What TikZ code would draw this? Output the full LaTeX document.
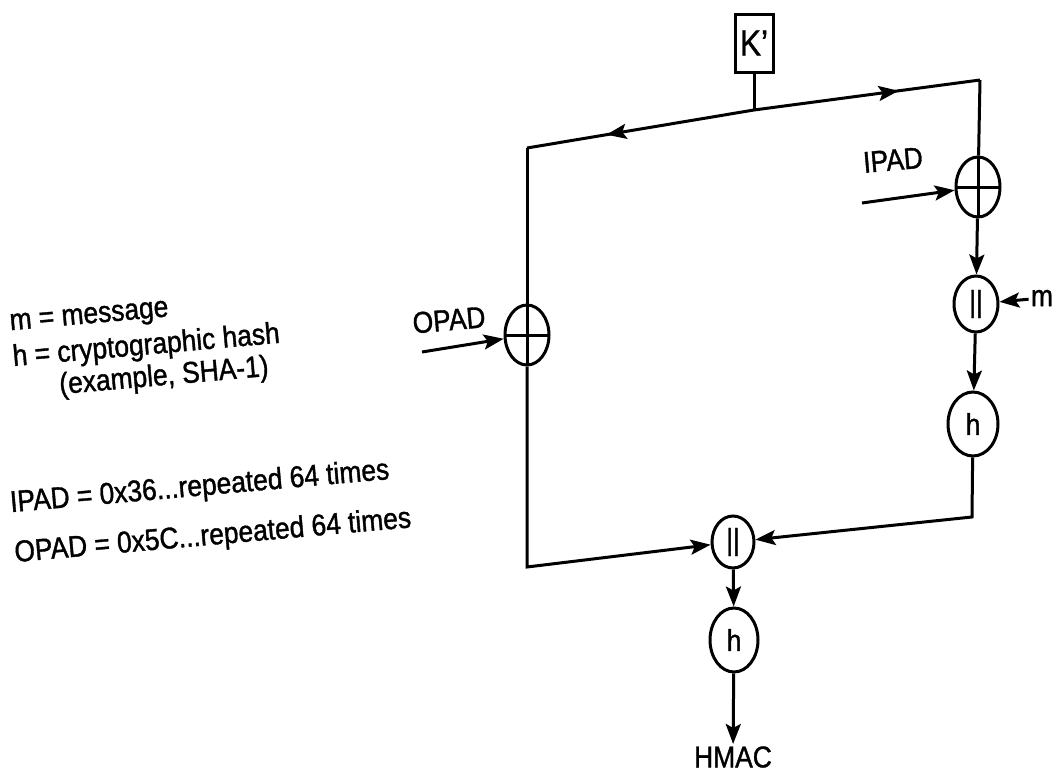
\documentclass[tikz,border=0pt]{standalone}
\usepackage{fontspec}
\setmainfont{Liberation Sans}[FakeStretch=0.88,FakeBold=1.2]
\usetikzlibrary{arrows.meta,shapes.geometric,decorations.markings}

\begin{document}
\begin{tikzpicture}[
  x=0.5pt,y=-0.5pt,
  font=\fontsize{15}{17}\selectfont,
  wire/.style={line width=1.5pt},
  arr/.style={wire, -{Stealth[length=10pt,width=7.5pt,inset=2pt]}},
  midarr/.style={wire, postaction={decorate}, decoration={markings, mark=at position #1 with {\arrow{Stealth[length=10pt,width=7.5pt,inset=2pt]}}}},
  oper/.style={draw, ellipse, line width=1.5pt, inner sep=0pt, minimum width=22pt, minimum height=28pt},
  hash/.style={oper, minimum width=25pt, minimum height=32pt},
  xor/.style={oper, minimum height=30pt, path picture={\draw[line width=1.5pt] (path picture bounding box.west) -- (path picture bounding box.east) (path picture bounding box.north) -- (path picture bounding box.south);}},
  lbl/.style={inner sep=1pt},
  note/.style={anchor=base west, rotate=5, inner sep=0pt, align=left}
]
\useasboundingbox (0,0) rectangle (1062,776);

\node[draw, line width=1.5pt, minimum width=19pt, minimum height=29pt, inner sep=0pt, font=\fontsize{18}{20}\selectfont] (key) at (754,43) {K’};
\coordinate (kj) at (754,110);
\coordinate (tl) at (527,148);
\coordinate (tr) at (980,80);

\node[xor] (ipx) at (978,187) {};
\node[oper] (cat1) at (976,304) {||};
\node[hash] (h1) at (973,424) {h};
\node[xor] (opx) at (527,335) {};
\node[oper, minimum width=21pt, minimum height=26pt] (cat2) at (733,542) {||};
\node[hash, minimum width=24pt] (h2) at (734,640) {h};
\node[lbl] (hmac) at (733,757) {HMAC};

\node[lbl, rotate=5] (iplab) at (893,160) {IPAD};
\coordinate (ipin) at (862,203);
\node[lbl, rotate=5] (oplab) at (449,320) {OPAD};
\coordinate (opin) at (422,352);
\node[lbl] (mlab) at (1042,298) {m};
\coordinate (bl) at (527,567);
\coordinate (br) at (972,517);

\draw[wire] (key) -- (kj);
\draw[midarr=0.65] (kj) -- (tl);
\draw[midarr=0.64] (kj) -- (tr);
\draw[wire] (tr) -- (ipx);
\draw[wire] (tl) -- (opx);
\draw[arr] (ipin) -- (ipx);
\draw[arr] (opin) -- (opx);
\draw[arr] (mlab) -- (cat1);
\draw[arr] (ipx) -- (cat1);
\draw[arr] (cat1) -- (h1);
\draw[arr] (h1) -- (br) -- (cat2);
\draw[arr] (opx) -- (bl) -- (cat2);
\draw[arr] (cat2) -- (h2);
\draw[arr] (h2) -- (hmac);

\node[note] (defs) at (16,398) {m = message\\[1pt] h = cryptographic hash\\[-1pt] \hspace*{22pt}(example, SHA-1)};
\node[note] (pads) at (15,562) {IPAD = 0x36...repeated 64 times\\[8pt] OPAD = 0x5C...repeated 64 times};
\end{tikzpicture}
\end{document}
